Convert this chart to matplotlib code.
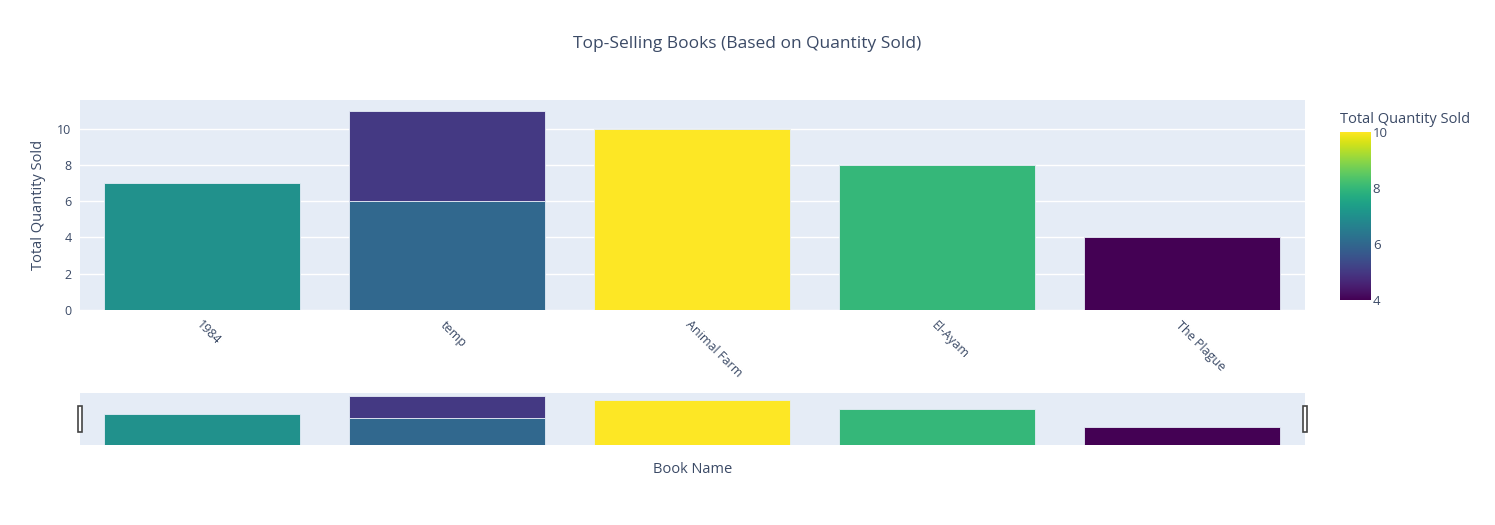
import numpy as np
import pandas as pd
import matplotlib
matplotlib.use("Agg")
import matplotlib.pyplot as plt
from matplotlib.colors import Normalize
from matplotlib.patches import Rectangle

# one row per sale group, same book can appear twice (gets stacked)
book_names = ["1984", "temp", "temp", "Animal Farm", "El-Ayam", "The Plague"]
quantity = [7, 6, 5, 10, 8, 4]
categories = ["1984", "temp", "Animal Farm", "El-Ayam", "The Plague"]

df = pd.DataFrame({"book": book_names, "qty": quantity})
df["base"] = df.groupby("book")["qty"].cumsum() - df["qty"]
df["x"] = df["book"].map({c: i for i, c in enumerate(categories)})

plt.rcParams["font.family"] = ["Open Sans", "DejaVu Sans"]
txt = "#3b4a66"
bg = "#E5ECF6"
norm = Normalize(vmin=min(quantity), vmax=max(quantity))
cmap = plt.get_cmap("viridis")
colors = cmap(norm(df["qty"]))
ytop = 11.58

fig = plt.figure(figsize=(14.95, 5.25), dpi=100)
ax = fig.add_axes([0.0535, 0.4095, 0.8194, 0.4])
sl = fig.add_axes([0.0535, 0.1524, 0.8194, 0.099])
cax = fig.add_axes([0.8963, 0.4286, 0.0201, 0.32])

for a in (ax, sl):
    a.set_facecolor(bg)
    a.bar(df["x"], df["qty"], bottom=df["base"], width=0.8, color=colors,
          edgecolor=bg, linewidth=0.6, zorder=3)
    a.set_xlim(-0.5, len(categories) - 0.5)
    a.set_ylim(0, ytop)
    for s in a.spines.values():
        s.set_visible(False)

ax.set_yticks([0, 2, 4, 6, 8, 10])
ax.grid(axis="y", color="white", linewidth=1, zorder=0)
ax.tick_params(axis="both", length=0, labelsize=9, colors=txt, pad=6)
ax.set_xticks(range(len(categories)))
ax.set_xticklabels(categories, rotation=-45, ha="left", va="top", rotation_mode="anchor")
ax.set_ylabel("Total Quantity Sold", fontsize=10.5, color=txt, labelpad=8)

sl.set_xticks([])
sl.set_yticks([])
sl.set_xlabel("Book Name", fontsize=10.5, color=txt, labelpad=12)
# range slider grips
for gx in (-0.5, len(categories) - 0.5):
    sl.add_patch(Rectangle((gx - 0.01, 2.9), 0.02, 5.8, transform=sl.transData,
                           facecolor="white", edgecolor="#444444", linewidth=1.2,
                           clip_on=False, zorder=5))

grad = np.linspace(norm.vmin, norm.vmax, 256).reshape(-1, 1)
cax.imshow(grad, aspect="auto", cmap=cmap, origin="lower",
           extent=[0, 1, norm.vmin, norm.vmax])
cax.set_xticks([])
cax.yaxis.tick_right()
cax.set_yticks([4, 6, 8, 10])
cax.tick_params(axis="y", length=0, labelsize=9.5, colors=txt, pad=2)
for s in cax.spines.values():
    s.set_visible(False)
cax.text(0, 1.03, "Total Quantity Sold", transform=cax.transAxes, fontsize=10.5,
         color=txt, ha="left", va="bottom")

fig.text(0.5, 0.916, "Top-Selling Books (Based on Quantity Sold)", ha="center",
         va="center", fontsize=12.5, color=txt)

fig.savefig("out.png", dpi=100)
